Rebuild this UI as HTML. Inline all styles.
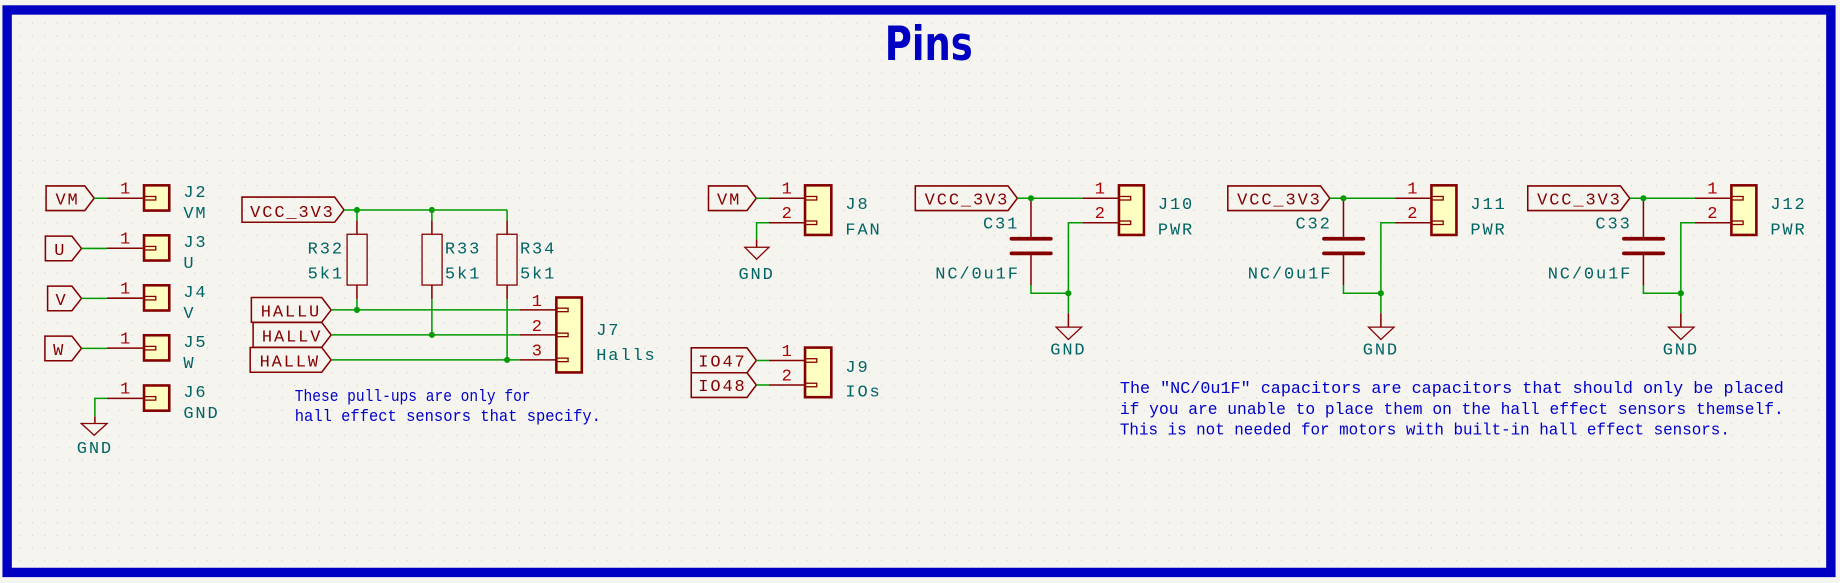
<!DOCTYPE html>
<html><head><meta charset="utf-8"><style>
html,body{margin:0;padding:0;background:#f5f4ef;}
svg{display:block;}
text{font-family:"Liberation Mono",monospace;}
.t{fill:#006464;font-size:14.5px;letter-spacing:1.6px;}
.r{fill:#840000;font-size:14.5px;letter-spacing:1.6px;}
.p{fill:#a90000;font-size:14.5px;}
.n{fill:#0000c8;font-size:14.5px;}
.w{stroke:#009900;stroke-width:1.3;fill:none;}
.pl{stroke:#840000;stroke-width:1.3;fill:none;}
.lb{stroke:#840000;stroke-width:1.3;fill:none;}
.bx{stroke:#840000;stroke-width:2.2;fill:#ffffc2;}
.st{stroke:#840000;stroke-width:1.1;fill:none;}
.j{fill:#009900;}
</style></head><body>
<svg width="1840" height="583" viewBox="0 0 1568 497" xmlns="http://www.w3.org/2000/svg">
<defs>
<pattern id="g" x="5.55" y="8.6" width="10.65" height="10.65" patternUnits="userSpaceOnUse">
<rect x="0" y="0" width="0.8" height="0.8" fill="#c4c4c0"/>
</pattern>
</defs>
<rect width="1568" height="497" fill="#f5f4ef"/>
<rect x="8" y="10" width="1552" height="476" fill="url(#g)"/>
<rect x="5.8" y="8.5" width="1554.7" height="479.5" fill="none" stroke="#0000c2" stroke-width="8"/>
<text x="791.5" y="51" text-anchor="middle" font-weight="bold" font-size="40" fill="#0000c2" textLength="75" lengthAdjust="spacingAndGlyphs" style="font-family:'DejaVu Sans','Liberation Sans',sans-serif">Pins</text>

<g>
<polygon class="lb" points="39,158.5 72,158.5 80,169 72,179.5 39,179.5"/>
<text class="r" x="47" y="174.5">VM</text>
<line class="w" x1="80" y1="169" x2="91" y2="169"/>
<polygon class="lb" points="38.4,201.3 61,201.3 69.2,211.8 61,222.3 38.4,222.3"/>
<text class="r" x="46" y="217.3">U</text>
<line class="w" x1="69.2" y1="211.8" x2="91" y2="211.8"/>
<polygon class="lb" points="40.3,243.9 61,243.9 69.2,254.4 61,264.9 40.3,264.9"/>
<text class="r" x="47" y="259.9">V</text>
<line class="w" x1="69.2" y1="254.4" x2="91" y2="254.4"/>
<polygon class="lb" points="38,286.5 61,286.5 69.2,297 61,307.5 38,307.5"/>
<text class="r" x="45" y="302.5">W</text>
<line class="w" x1="69.2" y1="297" x2="91" y2="297"/>
<polyline class="w" points="91,339.6 80.6,339.6 80.6,355"/>
<line class="pl" x1="80.6" y1="355" x2="80.6" y2="361"/>
<polygon class="st" points="69,361 91,361 80,371"/>
<text class="t" x="80.6" y="386" text-anchor="middle">GND</text>
</g>
<g id="s1">
<line class="pl" x1="91" y1="169" x2="122.5" y2="169"/>
<rect class="bx" x="122.5" y="158" width="21.5" height="21.5"/>
<rect class="st" x="122.5" y="167.5" width="10" height="3" fill="none"/>
<text class="p" x="102" y="165">1</text>
</g>
<use href="#s1" y="42.6"/>
<use href="#s1" y="85.2"/>
<use href="#s1" y="127.8"/>
<use href="#s1" y="170.6"/>
<text class="t" x="156" y="168">J2</text><text class="t" x="156" y="186">VM</text>
<text class="t" x="156" y="210.6">J3</text><text class="t" x="156" y="228.6">U</text>
<text class="t" x="156" y="253.2">J4</text><text class="t" x="156" y="271.2">V</text>
<text class="t" x="156" y="295.8">J5</text><text class="t" x="156" y="313.8">W</text>
<text class="t" x="156" y="338.4">J6</text><text class="t" x="156" y="356.4">GND</text>

<polygon class="lb" points="206,168 285,168 293,179 285,189.5 206,189.5"/>
<text class="r" x="213" y="185">VCC_3V3</text>
<line class="w" x1="293" y1="179" x2="432" y2="179"/>
<line class="w" x1="304" y1="179" x2="304" y2="188"/>
<line class="w" x1="367.9" y1="179" x2="367.9" y2="188"/>
<line class="w" x1="432" y1="179" x2="432" y2="188"/>
<g class="pl">
<line x1="304" y1="188" x2="304" y2="200"/><line x1="304" y1="243" x2="304" y2="255"/>
<line x1="367.9" y1="188" x2="367.9" y2="200"/><line x1="367.9" y1="243" x2="367.9" y2="255"/>
<line x1="432" y1="188" x2="432" y2="200"/><line x1="432" y1="243" x2="432" y2="255"/>
</g>
<rect class="st" x="295.6" y="199.7" width="17.1" height="43.3" stroke-width="1.8"/>
<rect class="st" x="359.5" y="199.7" width="17.1" height="43.3" stroke-width="1.8"/>
<rect class="st" x="423.4" y="199.7" width="17.1" height="43.3" stroke-width="1.8"/>
<line class="w" x1="304" y1="255" x2="304" y2="264.2"/>
<line class="w" x1="367.9" y1="255" x2="367.9" y2="285.5"/>
<line class="w" x1="432" y1="255" x2="432" y2="306.8"/>
<text class="t" x="262" y="216">R32</text><text class="t" x="262" y="237.5">5k1</text>
<text class="t" x="379" y="216">R33</text><text class="t" x="379" y="237.5">5k1</text>
<text class="t" x="443" y="216">R34</text><text class="t" x="443" y="237.5">5k1</text>

<polygon class="lb" points="214,253.6 274,253.6 282,264.2 274,274.7 214,274.7"/>
<text class="r" x="222" y="269.7">HALLU</text>
<polygon class="lb" points="215.5,274.9 274,274.9 282,285.5 274,296 215.5,296"/>
<text class="r" x="223" y="291">HALLV</text>
<polygon class="lb" points="213,296.2 274,296.2 282,306.8 274,317.3 213,317.3"/>
<text class="r" x="221" y="312.3">HALLW</text>
<line class="w" x1="282" y1="264.2" x2="443" y2="264.2"/>
<line class="w" x1="282" y1="285.5" x2="443" y2="285.5"/>
<line class="w" x1="282" y1="306.8" x2="443" y2="306.8"/>
<line class="pl" x1="443" y1="264.2" x2="474" y2="264.2"/>
<line class="pl" x1="443" y1="285.5" x2="474" y2="285.5"/>
<line class="pl" x1="443" y1="306.8" x2="474" y2="306.8"/>
<rect class="bx" x="474" y="253.6" width="21.7" height="63.9"/>
<rect class="st" x="474" y="262.7" width="10" height="3"/>
<rect class="st" x="474" y="284" width="10" height="3"/>
<rect class="st" x="474" y="305.3" width="10" height="3"/>
<text class="p" x="453" y="261">1</text><text class="p" x="453" y="282">2</text><text class="p" x="453" y="303">3</text>
<text class="t" x="508" y="285.5">J7</text><text class="t" x="508" y="307">Halls</text>
<circle class="j" cx="304" cy="179" r="2.6"/><circle class="j" cx="367.9" cy="179" r="2.6"/>
<circle class="j" cx="304" cy="264.2" r="2.6"/><circle class="j" cx="367.9" cy="285.5" r="2.6"/><circle class="j" cx="432" cy="306.8" r="2.6"/>
<text class="n" x="251" y="342" textLength="201" lengthAdjust="spacingAndGlyphs">These pull-ups are only for</text>
<text class="n" x="251" y="359" textLength="261" lengthAdjust="spacingAndGlyphs">hall effect sensors that specify.</text>

<polygon class="lb" points="603.7,158.5 636.5,158.5 644.5,169 636.5,179.5 603.7,179.5"/>
<text class="r" x="611" y="174.5">VM</text>
<line class="w" x1="644.5" y1="169" x2="655.2" y2="169"/>
<polyline class="w" points="655.2,189.9 644.7,189.9 644.7,204"/>
<line class="pl" x1="644.7" y1="204" x2="644.7" y2="210.8"/>
<polygon class="st" points="634.7,210.8 655.2,210.8 644.7,221"/>
<text class="t" x="644.7" y="238" text-anchor="middle">GND</text>
<g id="c2">
<line class="pl" x1="655.2" y1="169" x2="686" y2="169"/>
<line class="pl" x1="655.2" y1="189.9" x2="686" y2="189.9"/>
<rect class="bx" x="686" y="158" width="22.4" height="42.3"/>
<rect class="st" x="686" y="167.5" width="10" height="3"/>
<rect class="st" x="686" y="188.4" width="10" height="3"/>
<text class="p" x="666" y="165">1</text><text class="p" x="666" y="186">2</text>
</g>
<text class="t" x="720.4" y="178">J8</text><text class="t" x="720.4" y="200">FAN</text>
<use href="#c2" y="138.3"/>
<polygon class="lb" points="589,296.5 636.5,296.5 644.5,307.3 636.5,317.8 589,317.8"/>
<text class="r" x="595" y="312.5">IO47</text>
<polygon class="lb" points="589,317.8 636.5,317.8 644.5,328.2 636.5,338.8 589,338.8"/>
<text class="r" x="595" y="333.5">IO48</text>
<line class="w" x1="644.5" y1="307.3" x2="655.2" y2="307.3"/>
<line class="w" x1="644.5" y1="328.2" x2="655.2" y2="328.2"/>
<text class="t" x="720.4" y="317">J9</text><text class="t" x="720.4" y="338">IOs</text>

<g id="pw">
<polygon class="lb" points="780,158.5 859,158.5 867,169 859,179.5 780,179.5"/>
<text class="r" x="788" y="174.5">VCC_3V3</text>
<line class="w" x1="867" y1="169" x2="922.6" y2="169"/>
<line class="pl" x1="922.6" y1="169" x2="953.6" y2="169"/>
<line class="pl" x1="922.6" y1="189.9" x2="953.6" y2="189.9"/>
<rect class="bx" x="953.6" y="158" width="21.3" height="42.3"/>
<rect class="st" x="953.6" y="167.5" width="10" height="3"/>
<rect class="st" x="953.6" y="188.4" width="10" height="3"/>
<text class="p" x="933" y="165">1</text><text class="p" x="933" y="186">2</text>
<line class="pl" x1="878.6" y1="169" x2="878.6" y2="203.5"/>
<line stroke="#840000" stroke-width="3.2" stroke-linecap="round" x1="862" y1="203.5" x2="895.5" y2="203.5"/>
<line stroke="#840000" stroke-width="3.2" stroke-linecap="round" x1="862" y1="216" x2="895.5" y2="216"/>
<line class="pl" x1="878.6" y1="216" x2="878.6" y2="243"/>
<polyline class="w" points="878.6,243 878.6,250 910.5,250"/>
<polyline class="w" points="922.6,189.9 910.5,189.9 910.5,267"/>
<line class="pl" x1="910.5" y1="267" x2="910.5" y2="278.9"/>
<polygon class="st" points="900,278.9 921.7,278.9 910.5,289.4"/>
<text class="t" x="910.5" y="302" text-anchor="middle">GND</text>
<circle class="j" cx="878.6" cy="169" r="2.6"/>
<circle class="j" cx="910.5" cy="250" r="2.6"/>
<text class="t" x="986.8" y="178">J10</text><text class="t" x="986.8" y="200">PWR</text>
<text class="t" x="797" y="237.5">NC/0u1F</text>
</g>
<text class="t" x="837.7" y="195">C31</text>
<g transform="translate(266.4,0)">
<use href="#pw"/>
<rect x="986" y="160" width="40" height="20" fill="#f5f4ef"/>
<text class="t" x="986.8" y="178">J11</text>
<text class="t" x="837.7" y="195">C32</text>
</g>
<g transform="translate(522.1,0)">
<use href="#pw"/>
<rect x="986" y="160" width="40" height="20" fill="#f5f4ef"/>
<text class="t" x="986.8" y="178">J12</text>
<text class="t" x="837.7" y="195">C33</text>
</g>

<text class="n" x="954.4" y="335" textLength="566" lengthAdjust="spacingAndGlyphs">The "NC/0u1F" capacitors are capacitors that should only be placed</text>
<text class="n" x="954.4" y="353" textLength="566" lengthAdjust="spacingAndGlyphs">if you are unable to place them on the hall effect sensors themself.</text>
<text class="n" x="954.4" y="370.5" textLength="520" lengthAdjust="spacingAndGlyphs">This is not needed for motors with built-in hall effect sensors.</text>
</svg>
</body></html>
